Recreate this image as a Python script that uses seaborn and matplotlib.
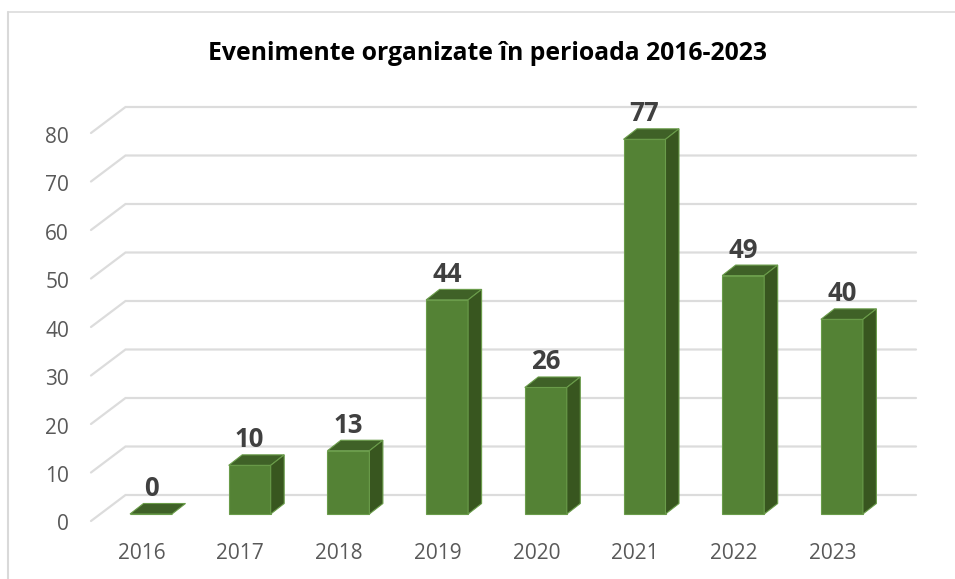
import matplotlib
matplotlib.use("Agg")
import matplotlib.pyplot as plt
from matplotlib.lines import Line2D
from matplotlib.patches import Polygon
import pandas as pd
import seaborn as sns

years = ["2016", "2017", "2018", "2019", "2020", "2021", "2022", "2023"]
events = [0, 10, 13, 44, 26, 77, 49, 40]
y_ticks = [0, 10, 20, 30, 40, 50, 60, 70, 80]
title = "Evenimente organizate în perioada 2016-2023"

FRONT, TOP, SIDE, EDGE = "#548235", "#3f6127", "#38561f", "#6a9c4a"
GRID, TEXT, LABEL, BORDER = "#dcdcdc", "#595959", "#404040", "#d9d9d9"

W, H = 955, 579
sns.set_theme(style="white")
plt.rcParams["font.family"] = ["Open Sans", "DejaVu Sans"]

# pixel scale of the chart's own axes
PX_X, PX_Y = 98.7, 4.866
X0_PX, Y0_PX = 151.0, 514.0
LEFT_PX, RIGHT_PX, TOP_PX, BOTTOM_PX = 91.0, 916.0, 107.0, 525.0

fig = plt.figure(figsize=(W / 100, H / 100), dpi=100, facecolor="white")
ax = fig.add_axes([LEFT_PX / W, 1 - BOTTOM_PX / H,
                   (RIGHT_PX - LEFT_PX) / W, (BOTTOM_PX - TOP_PX) / H])
df = pd.DataFrame({"year": years, "events": events})
bar_w = 42 / PX_X
sns.barplot(data=df, x="year", y="events", color=FRONT, saturation=1, width=bar_w,
            edgecolor=EDGE, linewidth=0.8, ax=ax, zorder=3)
ax.set_xlim((LEFT_PX - X0_PX) / PX_X, (RIGHT_PX - X0_PX) / PX_X)
ax.set_ylim((Y0_PX - BOTTOM_PX) / PX_Y, (Y0_PX - TOP_PX) / PX_Y)
ax.patch.set_alpha(0)
for s in ax.spines.values():
    s.set_visible(False)

# 3-D depth of the walls and of the bars, in data units
wall_dx, floor_front, floor_back = 34.5 / PX_X, (Y0_PX - 521) / PX_Y, (Y0_PX - 495) / PX_Y
wall_scale = 4.85 / PX_Y
bar_dx, bar_dy = 13.5 / PX_X, 10.5 / PX_Y
back_left = (125.5 - X0_PX) / PX_X
back_right = ax.get_xlim()[1]
front_left = ax.get_xlim()[0]

for v in y_ticks:
    ax.plot([front_left, back_left, back_right],
            [v * wall_scale + floor_front, v * wall_scale + floor_back, v * wall_scale + floor_back],
            color=GRID, lw=1.6, zorder=1, clip_on=False, solid_joinstyle="miter")

for i, v in enumerate(events):
    l, r = i - bar_w / 2, i + bar_w / 2
    ax.add_patch(Polygon([(l, v), (r, v), (r + bar_dx, v + bar_dy), (l + bar_dx, v + bar_dy)],
                         closed=True, fc=TOP, ec=EDGE, lw=0.8, zorder=4, clip_on=False))
    if v > 0:
        ax.add_patch(Polygon([(r, 0), (r, v), (r + bar_dx, v + bar_dy), (r + bar_dx, bar_dy)],
                             closed=True, fc=SIDE, ec=EDGE, lw=0.8, zorder=4, clip_on=False))
    ax.text(i, v + 25.5 / PX_Y, str(v), ha="center", va="center", color=LABEL,
            fontsize=18.5, fontweight="bold", zorder=5, clip_on=False)

ax.set_yticks([v * wall_scale + floor_front - 1.5 / PX_Y for v in y_ticks], [str(v) for v in y_ticks])
ax.set_xticks([i - 9.5 / PX_X for i in range(len(years))], years)
ax.set_xlabel("")
ax.set_ylabel("")
ax.tick_params(axis="y", length=0, pad=22 * 0.72, labelsize=15, labelcolor=TEXT)
ax.tick_params(axis="x", length=0, pad=(553 - 525 - 10) * 0.72, labelsize=15, labelcolor=TEXT)

fig.text(487.5 / W, 1 - 54 / H, title, ha="center", va="center", color="black",
         fontsize=17.85, fontweight="bold")

fig.add_artist(Line2D([8 / W, 8 / W], [0, 1 - 12 / H], color=BORDER, lw=1.5,
                      transform=fig.transFigure))
fig.add_artist(Line2D([8 / W, 1], [1 - 12 / H, 1 - 12 / H], color=BORDER, lw=1.1,
                      transform=fig.transFigure))

fig.savefig("out.png", dpi=100, facecolor="white")
